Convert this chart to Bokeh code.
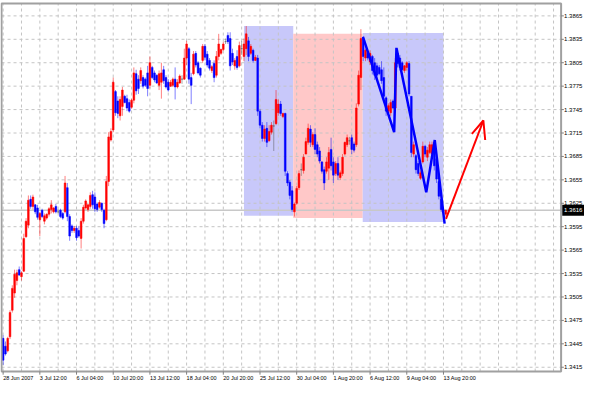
from bokeh.plotting import figure
from bokeh.models import Range1d
from bokeh.core.properties import value
from bokeh.embed import file_html
from bokeh.resources import INLINE

# ---- H4 bars, 28 Jun 2007 20:00 onwards (bar index = x) ----
opens = [
    1.3452, 1.3442, 1.3436, 1.3454, 1.3488, 1.3510, 1.3526, 1.3540, 1.3531, 1.3538,
    1.3582, 1.3597, 1.3630, 1.3621, 1.3623, 1.3619, 1.3604, 1.3616, 1.3602, 1.3606,
    1.3611, 1.3617, 1.3614, 1.3621, 1.3614, 1.3616, 1.3612, 1.3614, 1.3645, 1.3608,
    1.3596, 1.3590, 1.3593, 1.3590, 1.3580, 1.3602, 1.3619, 1.3617, 1.3621, 1.3636,
    1.3633, 1.3624, 1.3620, 1.3625, 1.3616, 1.3604, 1.3653, 1.3706, 1.3719, 1.3768,
    1.3756, 1.3737, 1.3749, 1.3762, 1.3759, 1.3754, 1.3748, 1.3757, 1.3791, 1.3784,
    1.3782, 1.3786, 1.3784, 1.3792, 1.3776, 1.3799, 1.3792, 1.3789, 1.3776, 1.3780,
    1.3796, 1.3786, 1.3780, 1.3775, 1.3776, 1.3784, 1.3774, 1.3779, 1.3784, 1.3784,
    1.3811, 1.3823, 1.3786, 1.3791, 1.3817, 1.3805, 1.3798, 1.3808, 1.3826, 1.3816,
    1.3808, 1.3795, 1.3804, 1.3789, 1.3813, 1.3817, 1.3822, 1.3832, 1.3840, 1.3836,
    1.3817, 1.3801, 1.3813, 1.3801, 1.3823, 1.3813, 1.3823, 1.3833, 1.3817, 1.3821,
    1.3808, 1.3811, 1.3743, 1.3725, 1.3708, 1.3721, 1.3705, 1.3716, 1.3724, 1.3727,
    1.3741, 1.3752, 1.3736, 1.3740, 1.3663, 1.3652, 1.3641, 1.3614, 1.3625, 1.3645,
    1.3668, 1.3667, 1.3688, 1.3703, 1.3720, 1.3700, 1.3713, 1.3700, 1.3692, 1.3678,
    1.3668, 1.3666, 1.3670, 1.3694, 1.3678, 1.3663, 1.3676, 1.3658, 1.3663, 1.3688,
    1.3700, 1.3705, 1.3709, 1.3701, 1.3700, 1.3752, 1.3786, 1.3836, 1.3811, 1.3818,
    1.3806, 1.3813, 1.3805, 1.3801, 1.3799, 1.3796, 1.3786, 1.3760, 1.3743, 1.3741,
    1.3756, 1.3747, 1.3817, 1.3811, 1.3805, 1.3795, 1.3799, 1.3804, 1.3762, 1.3688,
    1.3686, 1.3676, 1.3657, 1.3678, 1.3698, 1.3684, 1.3690, 1.3688, 1.3698, 1.3682,
    1.3653, 1.3630, 1.3616, 1.3611,
]
highs = [
    1.3456, 1.3448, 1.3454, 1.3488, 1.3520, 1.3540, 1.3540, 1.3544, 1.3538, 1.3586,
    1.3606, 1.3635, 1.3635, 1.3636, 1.3624, 1.3623, 1.3614, 1.3618, 1.3612, 1.3612,
    1.3620, 1.3629, 1.3620, 1.3624, 1.3617, 1.3618, 1.3614, 1.3660, 1.3651, 1.3611,
    1.3598, 1.3596, 1.3596, 1.3596, 1.3606, 1.3623, 1.3630, 1.3624, 1.3639, 1.3641,
    1.3639, 1.3626, 1.3629, 1.3626, 1.3618, 1.3660, 1.3716, 1.3721, 1.3786, 1.3770,
    1.3762, 1.3762, 1.3774, 1.3764, 1.3764, 1.3758, 1.3759, 1.3799, 1.3796, 1.3789,
    1.3799, 1.3789, 1.3786, 1.3801, 1.3813, 1.3801, 1.3795, 1.3790, 1.3795, 1.3805,
    1.3801, 1.3789, 1.3784, 1.3783, 1.3786, 1.3799, 1.3784, 1.3790, 1.3789, 1.3823,
    1.3833, 1.3825, 1.3792, 1.3820, 1.3820, 1.3807, 1.3799, 1.3829, 1.3829, 1.3820,
    1.3811, 1.3802, 1.3808, 1.3820, 1.3842, 1.3823, 1.3832, 1.3836, 1.3844, 1.3844,
    1.3823, 1.3811, 1.3821, 1.3832, 1.3833, 1.3836, 1.3852, 1.3838, 1.3829, 1.3823,
    1.3815, 1.3815, 1.3746, 1.3729, 1.3725, 1.3729, 1.3725, 1.3729, 1.3731, 1.3770,
    1.3758, 1.3756, 1.3741, 1.3741, 1.3666, 1.3655, 1.3647, 1.3626, 1.3647, 1.3667,
    1.3676, 1.3688, 1.3709, 1.3727, 1.3725, 1.3716, 1.3721, 1.3704, 1.3697, 1.3679,
    1.3672, 1.3684, 1.3697, 1.3709, 1.3684, 1.3679, 1.3684, 1.3667, 1.3688, 1.3704,
    1.3713, 1.3710, 1.3713, 1.3704, 1.3753, 1.3795, 1.3848, 1.3839, 1.3823, 1.3820,
    1.3821, 1.3815, 1.3811, 1.3805, 1.3802, 1.3807, 1.3799, 1.3762, 1.3753, 1.3758,
    1.3758, 1.3811, 1.3823, 1.3815, 1.3807, 1.3802, 1.3807, 1.3807, 1.3762, 1.3704,
    1.3688, 1.3679, 1.3667, 1.3704, 1.3700, 1.3697, 1.3704, 1.3704, 1.3700, 1.3688,
    1.3655, 1.3630, 1.3618, 1.3617,
]
lows = [
    1.3418, 1.3430, 1.3434, 1.3451, 1.3485, 1.3504, 1.3520, 1.3532, 1.3526, 1.3537,
    1.3581, 1.3593, 1.3618, 1.3617, 1.3611, 1.3604, 1.3583, 1.3606, 1.3598, 1.3604,
    1.3608, 1.3612, 1.3612, 1.3612, 1.3612, 1.3606, 1.3604, 1.3612, 1.3602, 1.3577,
    1.3587, 1.3587, 1.3577, 1.3581, 1.3567, 1.3599, 1.3617, 1.3614, 1.3618, 1.3618,
    1.3614, 1.3614, 1.3618, 1.3614, 1.3593, 1.3602, 1.3647, 1.3704, 1.3716, 1.3737,
    1.3734, 1.3731, 1.3737, 1.3753, 1.3743, 1.3741, 1.3746, 1.3753, 1.3764, 1.3765,
    1.3778, 1.3772, 1.3774, 1.3762, 1.3772, 1.3784, 1.3780, 1.3778, 1.3770, 1.3759,
    1.3778, 1.3772, 1.3768, 1.3774, 1.3774, 1.3758, 1.3772, 1.3778, 1.3778, 1.3783,
    1.3802, 1.3778, 1.3752, 1.3789, 1.3799, 1.3790, 1.3786, 1.3805, 1.3808, 1.3799,
    1.3795, 1.3792, 1.3780, 1.3786, 1.3808, 1.3815, 1.3820, 1.3829, 1.3829, 1.3795,
    1.3802, 1.3796, 1.3796, 1.3799, 1.3815, 1.3807, 1.3815, 1.3807, 1.3815, 1.3805,
    1.3807, 1.3737, 1.3721, 1.3704, 1.3704, 1.3697, 1.3704, 1.3713, 1.3692, 1.3725,
    1.3737, 1.3737, 1.3734, 1.3660, 1.3647, 1.3630, 1.3614, 1.3608, 1.3623, 1.3642,
    1.3660, 1.3663, 1.3688, 1.3700, 1.3697, 1.3697, 1.3688, 1.3684, 1.3676, 1.3663,
    1.3642, 1.3663, 1.3655, 1.3667, 1.3651, 1.3660, 1.3655, 1.3655, 1.3660, 1.3686,
    1.3697, 1.3700, 1.3688, 1.3690, 1.3697, 1.3749, 1.3770, 1.3807, 1.3807, 1.3808,
    1.3802, 1.3790, 1.3783, 1.3784, 1.3789, 1.3778, 1.3758, 1.3737, 1.3741, 1.3737,
    1.3746, 1.3741, 1.3799, 1.3795, 1.3795, 1.3792, 1.3795, 1.3762, 1.3684, 1.3684,
    1.3663, 1.3660, 1.3655, 1.3676, 1.3684, 1.3679, 1.3688, 1.3684, 1.3667, 1.3651,
    1.3630, 1.3614, 1.3611, 1.3608,
]
closes = [
    1.3424, 1.3432, 1.3452, 1.3485, 1.3516, 1.3534, 1.3536, 1.3533, 1.3536, 1.3580,
    1.3602, 1.3629, 1.3621, 1.3633, 1.3614, 1.3607, 1.3612, 1.3608, 1.3609, 1.3611,
    1.3618, 1.3623, 1.3619, 1.3614, 1.3614, 1.3608, 1.3606, 1.3651, 1.3608, 1.3583,
    1.3590, 1.3593, 1.3581, 1.3583, 1.3602, 1.3620, 1.3628, 1.3623, 1.3635, 1.3623,
    1.3618, 1.3617, 1.3626, 1.3617, 1.3599, 1.3653, 1.3710, 1.3717, 1.3780, 1.3741,
    1.3740, 1.3758, 1.3770, 1.3754, 1.3747, 1.3743, 1.3757, 1.3792, 1.3769, 1.3772,
    1.3795, 1.3775, 1.3776, 1.3772, 1.3805, 1.3786, 1.3783, 1.3779, 1.3791, 1.3792,
    1.3782, 1.3774, 1.3770, 1.3780, 1.3784, 1.3774, 1.3780, 1.3788, 1.3784, 1.3811,
    1.3829, 1.3784, 1.3776, 1.3816, 1.3802, 1.3792, 1.3789, 1.3826, 1.3812, 1.3802,
    1.3798, 1.3800, 1.3786, 1.3813, 1.3829, 1.3822, 1.3829, 1.3832, 1.3832, 1.3801,
    1.3806, 1.3808, 1.3799, 1.3827, 1.3823, 1.3829, 1.3842, 1.3813, 1.3826, 1.3808,
    1.3812, 1.3743, 1.3725, 1.3708, 1.3720, 1.3703, 1.3717, 1.3725, 1.3724, 1.3758,
    1.3752, 1.3740, 1.3740, 1.3666, 1.3651, 1.3635, 1.3617, 1.3624, 1.3644, 1.3663,
    1.3668, 1.3684, 1.3704, 1.3721, 1.3703, 1.3713, 1.3694, 1.3688, 1.3679, 1.3666,
    1.3651, 1.3678, 1.3690, 1.3673, 1.3661, 1.3676, 1.3661, 1.3664, 1.3684, 1.3703,
    1.3709, 1.3705, 1.3694, 1.3693, 1.3747, 1.3789, 1.3836, 1.3813, 1.3821, 1.3811,
    1.3817, 1.3795, 1.3789, 1.3789, 1.3791, 1.3782, 1.3762, 1.3743, 1.3750, 1.3754,
    1.3747, 1.3805, 1.3804, 1.3799, 1.3796, 1.3801, 1.3805, 1.3765, 1.3690, 1.3700,
    1.3668, 1.3663, 1.3664, 1.3698, 1.3688, 1.3693, 1.3700, 1.3700, 1.3673, 1.3656,
    1.3634, 1.3617, 1.3616, 1.3616,
]

# ---- axis ticks ----
x_ticks = [0, 16, 32, 48, 64, 80, 96, 112, 128, 144, 160, 176, 192]
x_labels = ["28 Jun 2007", "3 Jul 12:00", "6 Jul 04:00", "10 Jul 20:00", "13 Jul 12:00",
            "18 Jul 04:00", "20 Jul 20:00", "25 Jul 12:00", "30 Jul 04:00", "1 Aug 20:00",
            "6 Aug 12:00", "9 Aug 04:00", "13 Aug 20:00"]
y_ticks = [1.3415, 1.3445, 1.3475, 1.3505, 1.3535, 1.3565, 1.3595, 1.3625,
           1.3655, 1.3685, 1.3715, 1.3745, 1.3775, 1.3805, 1.3835, 1.3865]
y_labels = ["1.3415", "1.3445", "1.3475", "1.3505", "1.3535", "1.3565", "1.3595", "1.3625",
            "1.3655", "1.3685", "1.3715", "1.3745", "1.3775", "1.3805", "1.3835", "1.3865"]
last_price = 1.3616
last_label = "1.3616"

# ---- drawn objects ----
rect_left = [105.0, 126.5, 156.8]
rect_right = [126.5, 156.8, 192.0]
rect_top = [1.3852, 1.3842, 1.3843]
rect_bottom = [1.3609, 1.3606, 1.3601]
rect_colors = ["#C8C8FA", "#FFC8C8", "#C8C8FA"]

zig_x = [156.9, 170.5, 171.5, 184.5, 188.2, 192.5]
zig_y = [1.3838, 1.3716, 1.3824, 1.3639, 1.3706, 1.3599]

arrow_x = [193.1, 209.4]
arrow_y = [1.3605, 1.3731]
head_x = [204.4, 209.4, 210.2]
head_y = [1.3714, 1.3731, 1.3706]

# ---- chart window (plot box inside the canvas, with scales on the right/bottom) ----
X0, X1 = -0.7, 243.3          # plot box in bar units
Y0, Y1 = 1.34095, 1.3881      # plot box in price
FONT = "Liberation Sans"
GRID = "#C4C4C4"

p = figure(width=584, height=384, x_range=Range1d(-1.15, 253.5), y_range=Range1d(1.33929, 1.38847),
           output_backend="svg", toolbar_location=None, x_axis_type=None, y_axis_type=None,
           min_border=0, outline_line_color=None,
           background_fill_color="white", border_fill_color="white")

# background rectangles
p.quad(left=rect_left, right=rect_right, top=rect_top, bottom=rect_bottom,
       fill_color=rect_colors, line_color=None)

# dashed grid
grid_x = list(range(0, 244, 8))
p.segment(x0=grid_x, y0=[Y0] * len(grid_x), x1=grid_x, y1=[Y1] * len(grid_x),
          line_color=GRID, line_dash="3 3", line_width=1)
p.segment(x0=[X0] * len(y_ticks), y0=y_ticks, x1=[X1] * len(y_ticks), y1=y_ticks,
          line_color=GRID, line_dash="3 3", line_width=1)

# last price line
p.segment(x0=[X0], y0=[last_price], x1=[X1], y1=[last_price], line_color="#C8C8C8", line_width=1.5)

# candles
n = len(closes)
idx = list(range(n))
cols = ["#FF0000" if c > o else ("#0000FF" if c < o else "#555555") for o, c in zip(opens, closes)]
tops = [max(o, c) for o, c in zip(opens, closes)]
bots = [min(o, c) for o, c in zip(opens, closes)]
p.segment(x0=idx, y0=lows, x1=idx, y1=highs, line_color=cols, line_alpha=0.5, line_width=1)
p.vbar(x=idx, width=0.75, top=tops, bottom=bots, fill_color=cols, line_color=cols, line_width=0.5)

# zigzag and arrow
p.line(zig_x, zig_y, line_color="#0000FF", line_width=2.5)
p.line(arrow_x, arrow_y, line_color="#FF0000", line_width=2)
p.line(head_x, head_y, line_color="#FF0000", line_width=2)

# plot box border
p.quad(left=[X0], right=[X1], top=[Y1], bottom=[Y0], fill_color=None,
       line_color="#A0A0A0", line_width=2)

# price scale (right)
p.segment(x0=[X1] * len(y_ticks), y0=y_ticks, x1=[X1 + 1.2] * len(y_ticks), y1=y_ticks,
          line_color="#808080", line_width=1)
p.text(x=[X1] * len(y_ticks), y=y_ticks, text=y_labels, x_offset=3,
       text_font=value(FONT), text_font_size="6px", text_color="#000000",
       text_align="left", text_baseline="middle")

# time scale (bottom)
p.segment(x0=x_ticks, y0=[Y0] * len(x_ticks), x1=x_ticks, y1=[Y0 - 0.0004] * len(x_ticks),
          line_color="#808080", line_width=1)
p.text(x=x_ticks, y=[Y0] * len(x_ticks), text=x_labels, x_offset=0, y_offset=3,
       text_font=value(FONT), text_font_size="5.5px", text_color="#000000",
       text_align="left", text_baseline="top")

# last price tag
p.quad(left=[X1 + 0.5], right=[X1 + 10.2], top=[last_price + 0.0007], bottom=[last_price - 0.0007],
       fill_color="#000000", line_color=None)
p.text(x=[X1], y=[last_price], text=[last_label], x_offset=3,
       text_font=value(FONT), text_font_size="6px", text_color="#FFFFFF",
       text_align="left", text_baseline="middle")

open("out.html", "w").write(file_html(p, INLINE))
